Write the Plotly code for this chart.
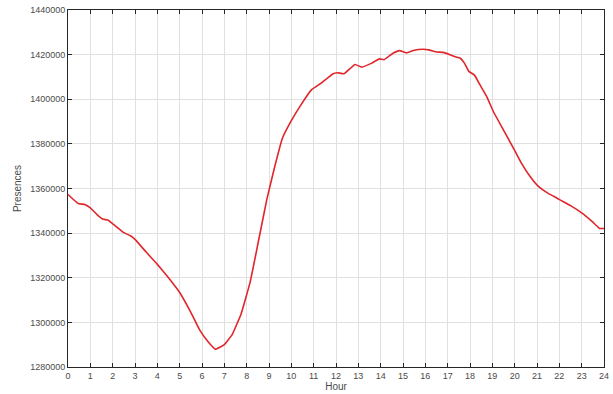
import plotly.graph_objects as go

hours = [0, 0.45, 0.75, 1.0, 1.3, 1.55, 1.8, 2.05, 2.5, 2.8, 3.0, 3.5, 4.0, 4.5, 5.0, 5.5,
         5.9, 6.3, 6.6, 7.0, 7.35, 7.75, 8.15, 8.5, 8.9, 9.25, 9.6, 9.95, 10.4, 10.9, 11.35,
         11.85, 12.05, 12.35, 12.85, 13.15, 13.6, 13.95, 14.15, 14.55, 14.85, 15.15, 15.5,
         15.9, 16.2, 16.5, 16.8, 17.1, 17.35, 17.55, 17.75, 17.95, 18.2, 18.45, 18.75, 19.05,
         19.5, 19.95, 20.3, 20.7, 21.05, 21.5, 21.75, 22.05, 22.5, 23.0, 23.45, 23.8, 24.0]
presences = [1357300, 1353300, 1352800, 1351300, 1348300, 1346300, 1345800, 1343800, 1340200,
             1338800, 1337200, 1331500, 1326000, 1320000, 1313400, 1304500, 1296500, 1291000,
             1288000, 1290000, 1294500, 1303800, 1317800, 1335000, 1355000, 1369500, 1382500,
             1389500, 1397000, 1404200, 1407300, 1411300, 1411900, 1411400, 1415600, 1414400,
             1416200, 1418100, 1417700, 1420600, 1421800, 1420800, 1422000, 1422400, 1422000,
             1421200, 1421000, 1420000, 1419000, 1418500, 1416200, 1412500, 1410800, 1406400,
             1401200, 1394400, 1386200, 1378000, 1371400, 1365300, 1361100, 1357800, 1356500,
             1354800, 1352300, 1349100, 1345400, 1342100, 1342100]

x_ticks = list(range(0, 25))
y_ticks = [1280000, 1300000, 1320000, 1340000, 1360000, 1380000, 1400000, 1420000, 1440000]

fig = go.Figure()
fig.add_trace(go.Scatter(x=hours, y=presences, mode="lines",
                         line=dict(color="#e0262b", width=1.6, shape="spline", smoothing=0.3),
                         showlegend=False, hoverinfo="skip"))

axis_common = dict(showline=True, linecolor="#262626", linewidth=1, mirror="ticks",
                   ticks="inside", ticklen=4, tickcolor="#262626", tickwidth=1,
                   showgrid=True, gridcolor="#e0e0e0", gridwidth=1, zeroline=False,
                   automargin=False,
                   tickfont=dict(family="Liberation Sans", size=9, color="#4a4a4a"))

fig.update_xaxes(range=[0, 24], tickvals=x_ticks, ticktext=[str(t) for t in x_ticks],
                 title=dict(text="Hour", standoff=2,
                            font=dict(family="Liberation Sans", size=10, color="#4a4a4a")),
                 **axis_common)
fig.update_yaxes(range=[1280000, 1440000], tickvals=y_ticks,
                 ticktext=[str(t) for t in y_ticks],
                 title=dict(text="Presences", standoff=6,
                            font=dict(family="Liberation Sans", size=10, color="#4a4a4a")),
                 **axis_common)

fig.update_layout(width=613, height=394, margin=dict(l=68, r=9, t=10, b=27),
                  paper_bgcolor="white", plot_bgcolor="white",
                  font=dict(family="Liberation Sans"))

fig.write_html("out.html")
